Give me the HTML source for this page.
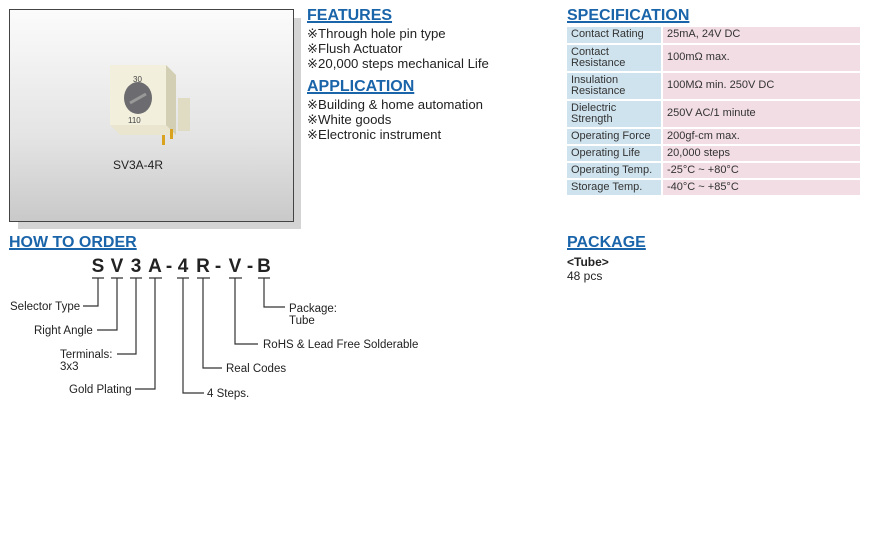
<!DOCTYPE html>
<html><head><meta charset="utf-8"><style>
body{margin:0;width:879px;height:558px;background:#fff;position:relative;overflow:hidden;font-family:"Liberation Sans",Arial,sans-serif;color:#222}
.a{position:absolute;white-space:nowrap}
.h{font-weight:bold;font-size:16px;color:#1a64aa;text-decoration:underline;text-decoration-thickness:2px;text-underline-offset:1px}
.t{font-size:13.2px;line-height:15px}
.s{font-size:12px;line-height:13px}
table{position:absolute;left:567px;top:27px;border-collapse:separate;border-spacing:0 2px;font-size:11px;color:#333;width:293px;margin-top:-2px}
td{padding:0 4px;line-height:11.5px;vertical-align:middle}
td.k{background:#cfe3ee;width:86px;border-right:2px solid #fff}
td.v{background:#f1dde3}
</style></head><body>
<div class="a" style="left:18px;top:18px;width:283px;height:211px;background:#d4d4d4"></div>
<div class="a" style="left:9px;top:9px;width:283px;height:211px;border:1px solid #444;background:linear-gradient(#fbfbfb,#e4e4e4 60%,#c9c9c9)"></div>
<svg class="a" style="left:100px;top:55px" width="100" height="110" viewBox="0 0 100 110">
<rect x="78" y="43" width="12" height="33" fill="#e0dcc4"/>
<polygon points="10,10 66,10 76,20 76,80 20,80 10,70" fill="#e9e5cf"/>
<polygon points="66,10 76,20 76,80 66,70" fill="#d3cfb4"/>
<rect x="10" y="10" width="56" height="60" fill="#f2efdc"/>
<ellipse cx="38" cy="43" rx="14" ry="16" fill="#6c6c70"/>
<line x1="30" y1="48" x2="46" y2="39" stroke="#999" stroke-width="3"/>
<text x="33" y="27" font-size="8" fill="#444">30</text><text x="28" y="68" font-size="8" fill="#444">110</text>
<rect x="62" y="80" width="3" height="10" fill="#d9a320"/><rect x="70" y="74" width="3" height="10" fill="#d9a320"/>
</svg>
<div class="a s" style="left:113px;top:159px;font-size:12px">SV3A-4R</div>

<div class="a h" style="left:307px;top:7px">FEATURES</div>
<div class="a t" style="left:307px;top:26px">※Through hole pin type<br>※Flush Actuator<br>※20,000 steps mechanical Life</div>
<div class="a h" style="left:307px;top:78px">APPLICATION</div>
<div class="a t" style="left:307px;top:97px">※Building &amp; home automation<br>※White goods<br>※Electronic instrument</div>

<div class="a h" style="left:567px;top:7px">SPECIFICATION</div>
<table>
<tr style="height:16px"><td class="k">Contact Rating</td><td class="v">25mA, 24V DC</td></tr>
<tr style="height:26px"><td class="k">Contact<br>Resistance</td><td class="v">100mΩ max.</td></tr>
<tr style="height:26px"><td class="k">Insulation<br>Resistance</td><td class="v">100MΩ min. 250V DC</td></tr>
<tr style="height:26px"><td class="k">Dielectric<br>Strength</td><td class="v">250V AC/1 minute</td></tr>
<tr style="height:15px"><td class="k">Operating Force</td><td class="v">200gf-cm max.</td></tr>
<tr style="height:15px"><td class="k">Operating Life</td><td class="v">20,000 steps</td></tr>
<tr style="height:15px"><td class="k">Operating Temp.</td><td class="v">-25°C ~ +80°C</td></tr>
<tr style="height:15px"><td class="k">Storage Temp.</td><td class="v">-40°C ~ +85°C</td></tr>
</table>

<div class="a h" style="left:9px;top:234px">HOW TO ORDER</div>
<div class="a h" style="left:567px;top:234px">PACKAGE</div>
<div class="a s" style="left:567px;top:256px;font-weight:bold">&lt;Tube&gt;</div>
<div class="a s" style="left:567px;top:270px">48 pcs</div>

<svg class="a" style="left:0;top:0" width="879" height="558">
<g font-family="Liberation Sans,Arial,sans-serif" font-weight="bold" font-size="19" fill="#222" text-anchor="middle">
<text x="98" y="272">S</text><text x="117" y="272">V</text><text x="136" y="272">3</text><text x="155" y="272">A</text><text x="169" y="272">-</text><text x="183" y="272">4</text><text x="203" y="272">R</text><text x="218" y="272">-</text><text x="235" y="272">V</text><text x="250" y="272">-</text><text x="264" y="272">B</text>
</g>
<g stroke="#333" stroke-width="1.2" fill="none">
<path d="M92 278h12M111 278h12M130 278h12M149 278h13M177 278h12M197 278h13M229 278h13M258 278h12"/>
<path d="M98 278V306H83M117 278V330H97M136 278V354H117M155 278V389H135M183 278V393H204M203 278V368H222M235 278V344H258M264 278V307H285"/>
</g>
<g font-family="Liberation Sans,Arial,sans-serif" font-size="11.5" fill="#222">
<text x="10" y="310">Selector Type</text>
<text x="34" y="334">Right Angle</text>
<text x="60" y="358">Terminals:</text><text x="60" y="370">3x3</text>
<text x="69" y="393">Gold Plating</text>
<text x="207" y="397">4 Steps.</text>
<text x="226" y="372">Real Codes</text>
<text x="263" y="348">RoHS &amp; Lead Free Solderable</text>
<text x="289" y="312">Package:</text><text x="289" y="324">Tube</text>
</g>
</svg>
</body></html>
